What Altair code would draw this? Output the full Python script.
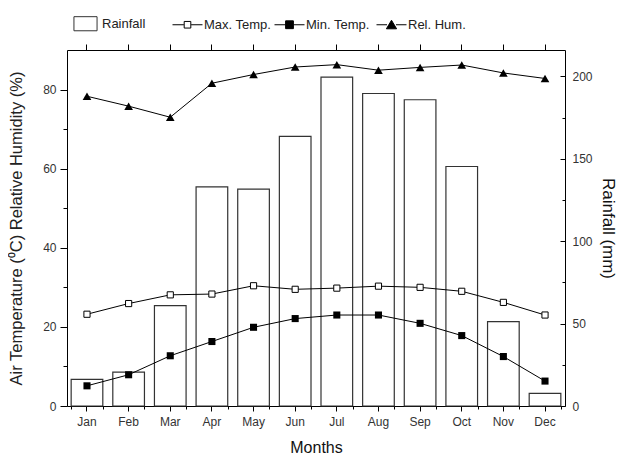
import altair as alt
import pandas as pd

months = ["Jan", "Feb", "Mar", "Apr", "May", "Jun", "Jul", "Aug", "Sep", "Oct", "Nov", "Dec"]
rainfall = [16.2, 20.6, 60.9, 133.0, 131.6, 163.6, 199.5, 189.6, 185.8, 145.3, 51.2, 7.6]
max_temp = [23.2, 25.9, 28.1, 28.3, 30.4, 29.5, 29.8, 30.3, 30.0, 29.0, 26.2, 23.0]
min_temp = [5.1, 7.9, 12.7, 16.3, 19.9, 22.1, 23.0, 23.0, 20.9, 17.8, 12.5, 6.3]
rel_hum = [78.3, 75.8, 73.0, 81.6, 83.8, 85.7, 86.3, 84.9, 85.6, 86.2, 84.2, 82.8]

legend_names = ["Rainfall", "Max. Temp.", "Min. Temp.", "Rel. Hum."]
legend_paths = [
    "M-0.77,-0.47H0.77V0.47H-0.77Z",
    "M-1,0H-0.24M0.24,0H1M-0.22,-0.22H0.22V0.22H-0.22Z",
    "M-1,0H-0.27M0.27,0H1M-0.26,-0.26H0.26V0.26H-0.26Z",
    "M-1,0H-0.3M0.3,0H1M0,-0.3L0.34,0.27H-0.34Z",
]
legend_fills = ["white", "white", "black", "black"]
legend_strokes = ["#333333", "black", "black", "black"]

df = pd.DataFrame({"Month": months, "Rain": rainfall, "TMax": max_temp,
                   "TMin": min_temp, "RH": rel_hum})
leg_df = pd.DataFrame({"series": legend_names})

FONT = "Liberation Sans"
xscale = alt.Scale(paddingInner=0.24, paddingOuter=0.1)
temp_scale = alt.Scale(domain=[0, 90], nice=False, zero=False)
rain_scale = alt.Scale(domain=[0, 216], nice=False, zero=False)

def xenc(axis):
    return alt.X("Month:N", sort=months, scale=xscale, axis=axis)

no_axis_common = dict(labels=False, title=None, domain=False, grid=False,
                      tickColor="black", tickWidth=1)

base = alt.Chart(df)

# Rainfall bars: bottom axis (labels) + right axis (labels, no ticks)
bars = base.mark_bar(fill="white", stroke="#333333", strokeWidth=1.2).encode(
    x=xenc(alt.Axis(orient="bottom", title="Months", labelAngle=0, tickSize=5,
                    labelPadding=5, titlePadding=12, labelFontSize=12,
                    titleFontSize=16, domainColor="black", tickColor="black",
                    labelColor="#333333", titleColor="#111111")),
    y=alt.Y("Rain:Q", scale=rain_scale,
            axis=alt.Axis(orient="right", values=[0, 50, 100, 150, 200], ticks=False,
                          labelPadding=7, title="Rainfall (mm)", titleFontSize=17,
                          titlePadding=6, labelFontSize=12, domainColor="black",
                          labelColor="#333333", titleColor="#111111", grid=False)),
)

# invisible layers that only carry minor/inward ticks
rain_ticks_major = base.mark_point(opacity=0).encode(
    x=xenc(alt.Axis(orient="bottom", tickBand="extent", tickSize=3, **no_axis_common)),
    y=alt.Y("Rain:Q", scale=rain_scale,
            axis=alt.Axis(orient="right", offset=-5, tickSize=5,
                          values=[0, 50, 100, 150, 200], **no_axis_common)),
)
rain_ticks_minor = base.mark_point(opacity=0).encode(
    x=xenc(None),
    y=alt.Y("Rain:Q", scale=rain_scale,
            axis=alt.Axis(orient="right", offset=-3, tickSize=3,
                          values=[25, 75, 125, 175], **no_axis_common)),
)

left_title = "Air Temperature (\u2070C)  Relative Humidity (%)"

rh_line = base.mark_line(color="black", strokeWidth=1).encode(
    x=xenc(alt.Axis(orient="top", labels=False, title=None, tickSize=6,
                    domainColor="black", tickColor="black", grid=False)),
    y=alt.Y("RH:Q", scale=temp_scale,
            axis=alt.Axis(orient="left", values=[0, 20, 40, 60, 80], tickSize=7,
                          labelPadding=4, title=left_title, titleFontSize=16.5,
                          titlePadding=18, labelFontSize=12, domainColor="black",
                          tickColor="black", labelColor="#333333",
                          titleColor="#222222", grid=False)),
)
temp_minor = base.mark_point(opacity=0).encode(
    x=xenc(None),
    y=alt.Y("RH:Q", scale=temp_scale,
            axis=alt.Axis(orient="left", tickSize=4, values=[10, 30, 50, 70],
                          **no_axis_common)),
)

tmax_line = base.mark_line(color="black", strokeWidth=1).encode(
    x=xenc(None), y=alt.Y("TMax:Q", scale=temp_scale, axis=None))
tmin_line = base.mark_line(color="black", strokeWidth=1).encode(
    x=xenc(None), y=alt.Y("TMin:Q", scale=temp_scale, axis=None))

rh_pts = base.mark_point(shape="triangle-up", filled=True, color="black", size=75,
                         opacity=1).encode(
    x=xenc(None), y=alt.Y("RH:Q", scale=temp_scale, axis=None))
tmax_pts = base.mark_point(shape="square", filled=True, fill="white", stroke="black",
                           strokeWidth=1, size=38, opacity=1).encode(
    x=xenc(None), y=alt.Y("TMax:Q", scale=temp_scale, axis=None))
tmin_pts = base.mark_point(shape="square", filled=True, color="black", size=50,
                           opacity=1).encode(
    x=xenc(None), y=alt.Y("TMin:Q", scale=temp_scale, axis=None))

legend_def = alt.Legend(
    orient="none", legendX=3, legendY=-42, direction="horizontal", columns=4,
    gridAlign="all", columnPadding=0, symbolSize=900,
    symbolStrokeWidth=1, symbolOpacity=1, labelFontSize=13, labelFont=FONT,
    labelColor="#222222", labelOffset=1, title=None, padding=0,
)
legend_layer = alt.Chart(leg_df).mark_point(opacity=0, filled=True, strokeWidth=1).encode(
    shape=alt.Shape("series:N", scale=alt.Scale(domain=legend_names, range=legend_paths),
                    legend=legend_def),
    fill=alt.Fill("series:N", scale=alt.Scale(domain=legend_names, range=legend_fills),
                  legend=legend_def),
    stroke=alt.Stroke("series:N", scale=alt.Scale(domain=legend_names, range=legend_strokes),
                      legend=legend_def),
)

chart = alt.layer(
    bars, rain_ticks_major, rain_ticks_minor, rh_line, temp_minor,
    tmax_line, tmin_line, rh_pts, tmax_pts, tmin_pts, legend_layer,
).resolve_scale(y="independent").resolve_axis(
    x="independent", y="independent"
).properties(
    width=498, height=356, padding={"left": 0, "top": 0, "right": 0, "bottom": 0},
    background="white",
).configure_view(stroke=None).configure_axis(
    labelFont=FONT, titleFont=FONT, titleFontWeight="normal",
).configure_legend(labelFont=FONT)

chart.save("out.html", embed_options={"renderer": "svg", "actions": False})
